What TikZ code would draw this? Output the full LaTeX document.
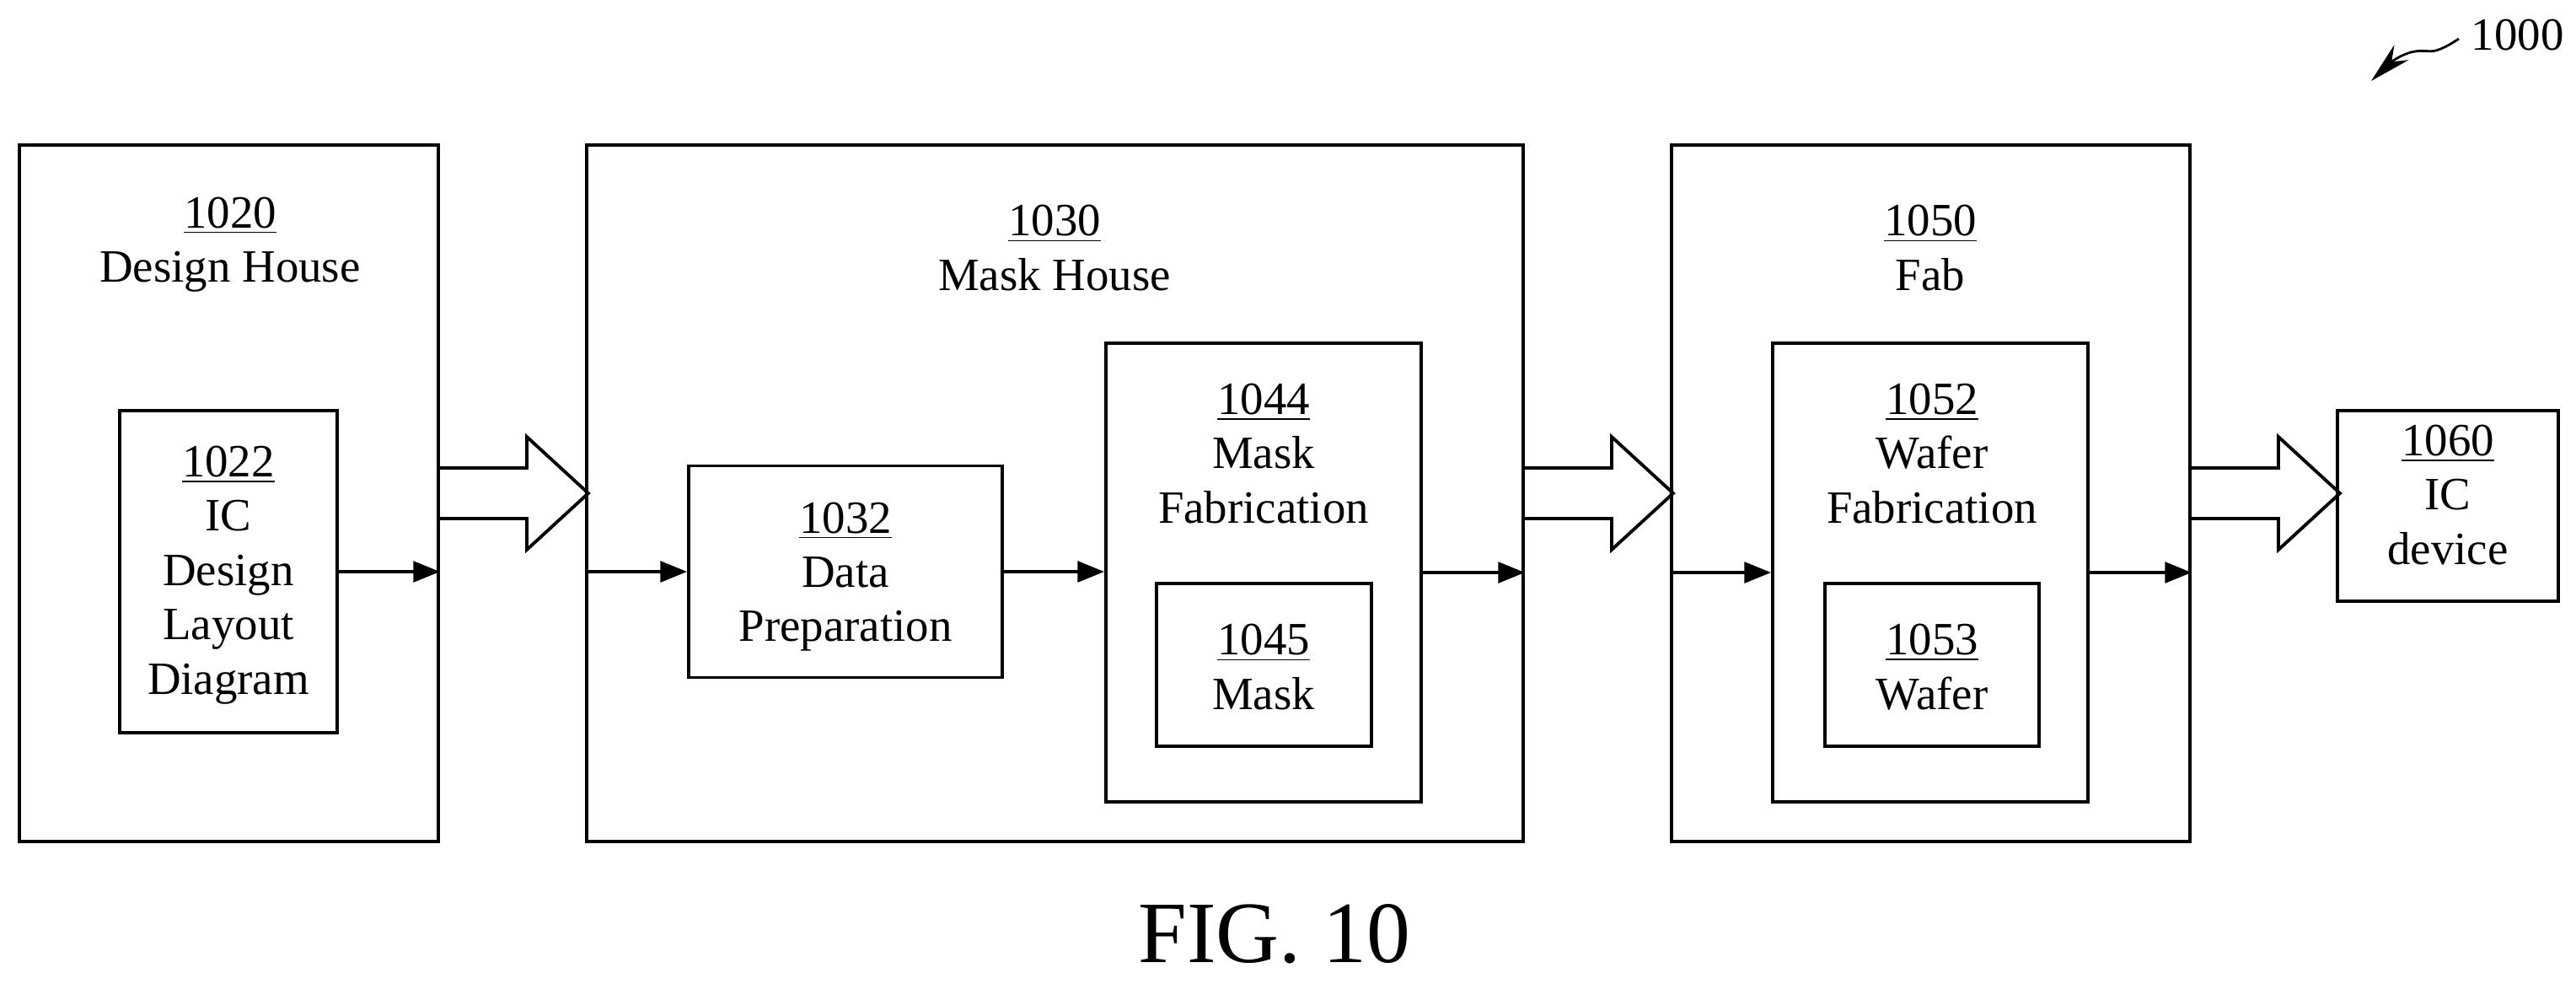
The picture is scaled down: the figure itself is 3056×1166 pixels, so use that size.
\documentclass[tikz,border=0pt]{standalone}
\usepackage{fontspec}
\setmainfont{Liberation Serif}
\usetikzlibrary{arrows.meta}
\begin{document}
\begin{tikzpicture}[x=0.01cm,y=0.01cm,line width=1.1pt,
  box/.style={draw,rectangle,inner sep=0pt},
  txt/.style={align=center,font=\fontsize{15.6}{18.3}\selectfont,inner sep=0pt},
  sm/.style={-{Triangle[length=9pt,width=7pt]}},
  pics/hollow/.style={code={\draw[line join=miter] (0,30) -- (103,30) -- (103,67) -- (176,0) -- (103,-67) -- (103,-30) -- (0,-30);}}]
\useasboundingbox (0,0) rectangle (3056,-1166);
% outer boxes
\node[box,minimum width=497*0.01cm,minimum height=826*0.01cm] (b1020) at (271.5,-585) {};
\node[box,minimum width=1111*0.01cm,minimum height=826*0.01cm] (b1030) at (1251.5,-585) {};
\node[box,minimum width=615*0.01cm,minimum height=826*0.01cm] (b1050) at (2290.5,-585) {};
\node[box,minimum width=262*0.01cm,minimum height=226*0.01cm] (b1060) at (2904,-600) {};
% inner boxes
\node[box,minimum width=258*0.01cm,minimum height=382*0.01cm] (b1022) at (271,-678) {};
\node[box,minimum width=372*0.01cm,minimum height=251*0.01cm] (b1032) at (1003,-678) {};
\node[box,minimum width=374*0.01cm,minimum height=544*0.01cm] (b1044) at (1499,-679) {};
\node[box,minimum width=255*0.01cm,minimum height=193*0.01cm] (b1045) at (1499.5,-788.5) {};
\node[box,minimum width=374*0.01cm,minimum height=544*0.01cm] (b1052) at (2290,-679) {};
\node[box,minimum width=254*0.01cm,minimum height=193*0.01cm] (b1053) at (2292,-788.5) {};
% texts
\node[txt] (t1020) at (273,-290) {\underline{1020}\\Design House};
\node[txt] (t1030) at (1251,-294) {\underline{1030}\\Mask House};
\node[txt] (t1022) at (271,-682) {\underline{1022}\\IC\\Design\\Layout\\Diagram};
\node[txt] (t1032) at (1003,-684) {\underline{1032}\\Data\\Preparation};
\node[txt] (t1044) at (1499,-538) {\underline{1044}\\Mask\\Fabrication};
\node[txt] (t1045) at (1499,-791) {\underline{1045}\\Mask};
\node[txt] (t1050) at (2290,-294) {\underline{1050}\\Fab};
\node[txt] (t1052) at (2292,-538) {\underline{1052}\\Wafer\\Fabrication};
\node[txt] (t1053) at (2292,-791) {\underline{1053}\\Wafer};
\node[txt] (t1060) at (2904,-587) {\underline{1060}\\IC\\device};
\node[inner sep=0pt,font=\fontsize{29.5}{35}\selectfont] (fig) at (1512,-1108) {FIG. 10};
\node[inner sep=0pt,font=\fontsize{15.6}{18.3}\selectfont,anchor=west] (t1000) at (2930,-42) {1000};
\draw[-{Stealth[length=14pt,width=7pt]},line width=0.8pt] (t1000.west) ++(-13,-4) .. controls (2880,-70) and (2885,-56) .. (2860,-62) .. controls (2840,-68) and (2830,-80) .. (2813,-96);
% hollow arrows
\pic at (b1020.east |- 0,-585) {hollow};
\pic at (b1030.east |- 0,-585) {hollow};
\pic at (b1050.east |- 0,-585) {hollow};
% small arrows
\draw[sm] (b1022.east) -- (b1020.east |- b1022.east);
\draw[sm] (b1030.west |- b1032.west) -- (b1032.west);
\draw[sm] (b1032.east) -- (b1044.west |- b1032.east);
\draw[sm] (b1044.east) -- (b1030.east |- b1044.east);
\draw[sm] (b1050.west |- b1052.west) -- (b1052.west);
\draw[sm] (b1052.east) -- (b1050.east |- b1052.east);
\end{tikzpicture}
\end{document}
